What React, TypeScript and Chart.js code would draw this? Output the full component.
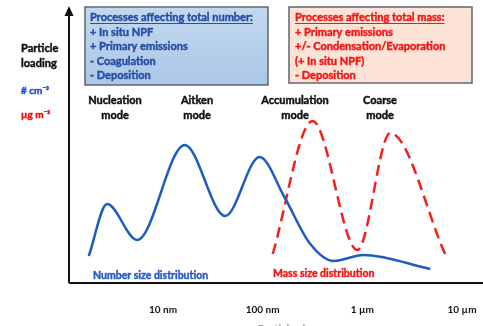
import React, { useEffect, useRef } from "react";
import { Chart, registerables } from "chart.js";

Chart.register(...registerables);

// Particle diameter (nm) and relative loading
const blueDiameters = [1.8, 2.75, 5.5, 16.5, 42, 93, 165, 295, 515, 1020, 4800];
const blueNumber = [27, 79, 43, 138, 67, 126, 86, 40, 22, 28, 14];

const redDiameters = [126, 316, 891, 1905, 6760];
const redMass = [29, 162, 33, 150, 29];

const tickValues = [10, 100, 1000, 10000];
const tickLabels = ["10 nm", "100 nm", "1 µm", "10 µm"];

const modeNames = ["Nucleation", "Aitken", "Accumulation", "Coarse"];
const numberProcesses = [
  "Processes affecting total number:",
  "+ In situ NPF",
  "+ Primary emissions",
  "- Coagulation",
  "- Deposition",
];
const massProcesses = [
  "Processes affecting total mass:",
  "+ Primary emissions",
  "+/- Condensation/Evaporation",
  "(+ In situ NPF)",
  "- Deposition",
];

const FONT = 'Lato, "Liberation Sans", sans-serif';
const BLUE_LINE = "#1f5cbf";
const RED_LINE = "#f02020";

function txt(
  ctx: CanvasRenderingContext2D,
  s: string,
  x: number,
  y: number,
  color: string,
  size: number,
  align: CanvasTextAlign = "left",
  underline = false
) {
  ctx.font = `bold ${size}px ${FONT}`;
  ctx.fillStyle = color;
  ctx.strokeStyle = color;
  ctx.lineWidth = 0.45;
  ctx.textAlign = align;
  ctx.textBaseline = "middle";
  ctx.fillText(s, x, y);
  ctx.strokeText(s, x, y);
  if (underline) {
    const w = ctx.measureText(s).width;
    const x0 = align === "center" ? x - w / 2 : x;
    ctx.lineWidth = 1;
    ctx.beginPath();
    ctx.moveTo(x0, y + 6.5);
    ctx.lineTo(x0 + w, y + 6.5);
    ctx.stroke();
  }
}

const decorPlugin = {
  id: "decor",
  beforeDatasetsDraw(chart: any) {
    const ctx: CanvasRenderingContext2D = chart.ctx;
    ctx.save();
    // blue box
    const g = ctx.createLinearGradient(0, 7, 0, 85);
    g.addColorStop(0, "#c2d8ef");
    g.addColorStop(1, "#abc7e6");
    ctx.fillStyle = g;
    ctx.fillRect(85, 7, 183, 78);
    ctx.strokeStyle = "#5f6670";
    ctx.lineWidth = 1.5;
    ctx.strokeRect(85, 7, 183, 78);
    // red box
    ctx.fillStyle = "#fde2d6";
    ctx.fillRect(289, 7, 183, 76);
    ctx.strokeRect(289, 7, 183, 76);
    ctx.restore();
  },
  afterDraw(chart: any) {
    const ctx: CanvasRenderingContext2D = chart.ctx;
    const { left, bottom } = chart.chartArea;
    ctx.save();
    // axes
    ctx.strokeStyle = "#111";
    ctx.lineWidth = 2;
    ctx.beginPath();
    ctx.moveTo(left, bottom);
    ctx.lineTo(chart.width, bottom);
    ctx.moveTo(left, bottom);
    ctx.lineTo(left, 13);
    ctx.stroke();
    ctx.fillStyle = "#111";
    ctx.beginPath();
    ctx.moveTo(left, 6);
    ctx.lineTo(left - 4.5, 16);
    ctx.lineTo(left + 4.5, 16);
    ctx.closePath();
    ctx.fill();

    // y label
    txt(ctx, "Particle", 21, 48, "#111", 11);
    txt(ctx, "loading", 21, 63, "#111", 11);
    txt(ctx, "# cm⁻³", 21, 91, "#1c4fd8", 10);
    txt(ctx, "µg m⁻³", 21, 115, "#ee1111", 10);

    // box texts
    const ys = [17, 32, 46, 61, 75];
    numberProcesses.forEach((s, i) => txt(ctx, s, 90, ys[i], "#2b4ea6", 11, "left", i === 0));
    massProcesses.forEach((s, i) => txt(ctx, s, 295, ys[i], "#f01818", 11, "left", i === 0));

    // mode labels
    const modeX = [115, 197, 295, 380];
    modeNames.forEach((m, i) => {
      txt(ctx, m, modeX[i], 100, "#111", 11, "center");
      txt(ctx, "mode", modeX[i], 115, "#111", 11, "center");
    });

    txt(ctx, "Number size distribution", 93, 276, "#2a5cc5", 10.5);
    txt(ctx, "Mass size distribution", 273, 274, "#f01818", 10.5);

    // x title (cut off by page edge)
    ctx.font = `bold 11px ${FONT}`;
    ctx.fillStyle = "#999";
    ctx.textAlign = "center";
    ctx.textBaseline = "top";
    ctx.fillText("Particle size", 287, 324);
    ctx.restore();
  },
};

export default function App() {
  const ref = useRef<HTMLCanvasElement>(null);
  useEffect(() => {
    const canvas = ref.current!;
    const chart = new Chart(canvas, {
      type: "line",
      data: {
        datasets: [
          {
            data: blueDiameters.map((d, i) => ({ x: d, y: blueNumber[i] })),
            borderColor: BLUE_LINE,
            borderWidth: 2.5,
            pointRadius: 0,
            cubicInterpolationMode: "monotone",
            fill: false,
          },
          {
            data: redDiameters.map((d, i) => ({ x: d, y: redMass[i] })),
            borderColor: RED_LINE,
            borderWidth: 2.5,
            borderDash: [11, 6],
            pointRadius: 0,
            cubicInterpolationMode: "monotone",
            fill: false,
          },
        ],
      },
      options: {
        responsive: false,
        animation: false,
        layout: { padding: { left: 69, top: 8, right: 0, bottom: 0 } },
        plugins: { legend: { display: false }, tooltip: { enabled: false } },
        scales: {
          x: {
            type: "logarithmic",
            min: 1.14,
            max: 16218,
            grid: { display: false, drawTicks: true, tickLength: 18 },
            border: { display: false },
            afterBuildTicks: (scale: any) => {
              scale.ticks = tickValues.map((v) => ({ value: v }));
            },
            afterFit: (scale: any) => {
              scale.height = 43;
            },
            ticks: {
              autoSkip: false,
              maxRotation: 0,
              padding: 3,
              color: "#111",
              font: { family: FONT, weight: "bold", size: 10 },
              callback: (v: any) => {
                const idx = tickValues.indexOf(Number(v));
                return idx >= 0 ? tickLabels[idx] : "";
              },
            },
          },
          y: {
            type: "linear",
            min: 0,
            max: 275,
            display: false,
          },
        },
      } as any,
      plugins: [decorPlugin],
    });
    return () => chart.destroy();
  }, []);
  return (
    <div style={{ position: "fixed", left: 0, top: 0, width: 483, height: 326, background: "#fff" }}>
      <canvas ref={ref} width={483} height={326} style={{ display: "block" }} />
    </div>
  );
}
